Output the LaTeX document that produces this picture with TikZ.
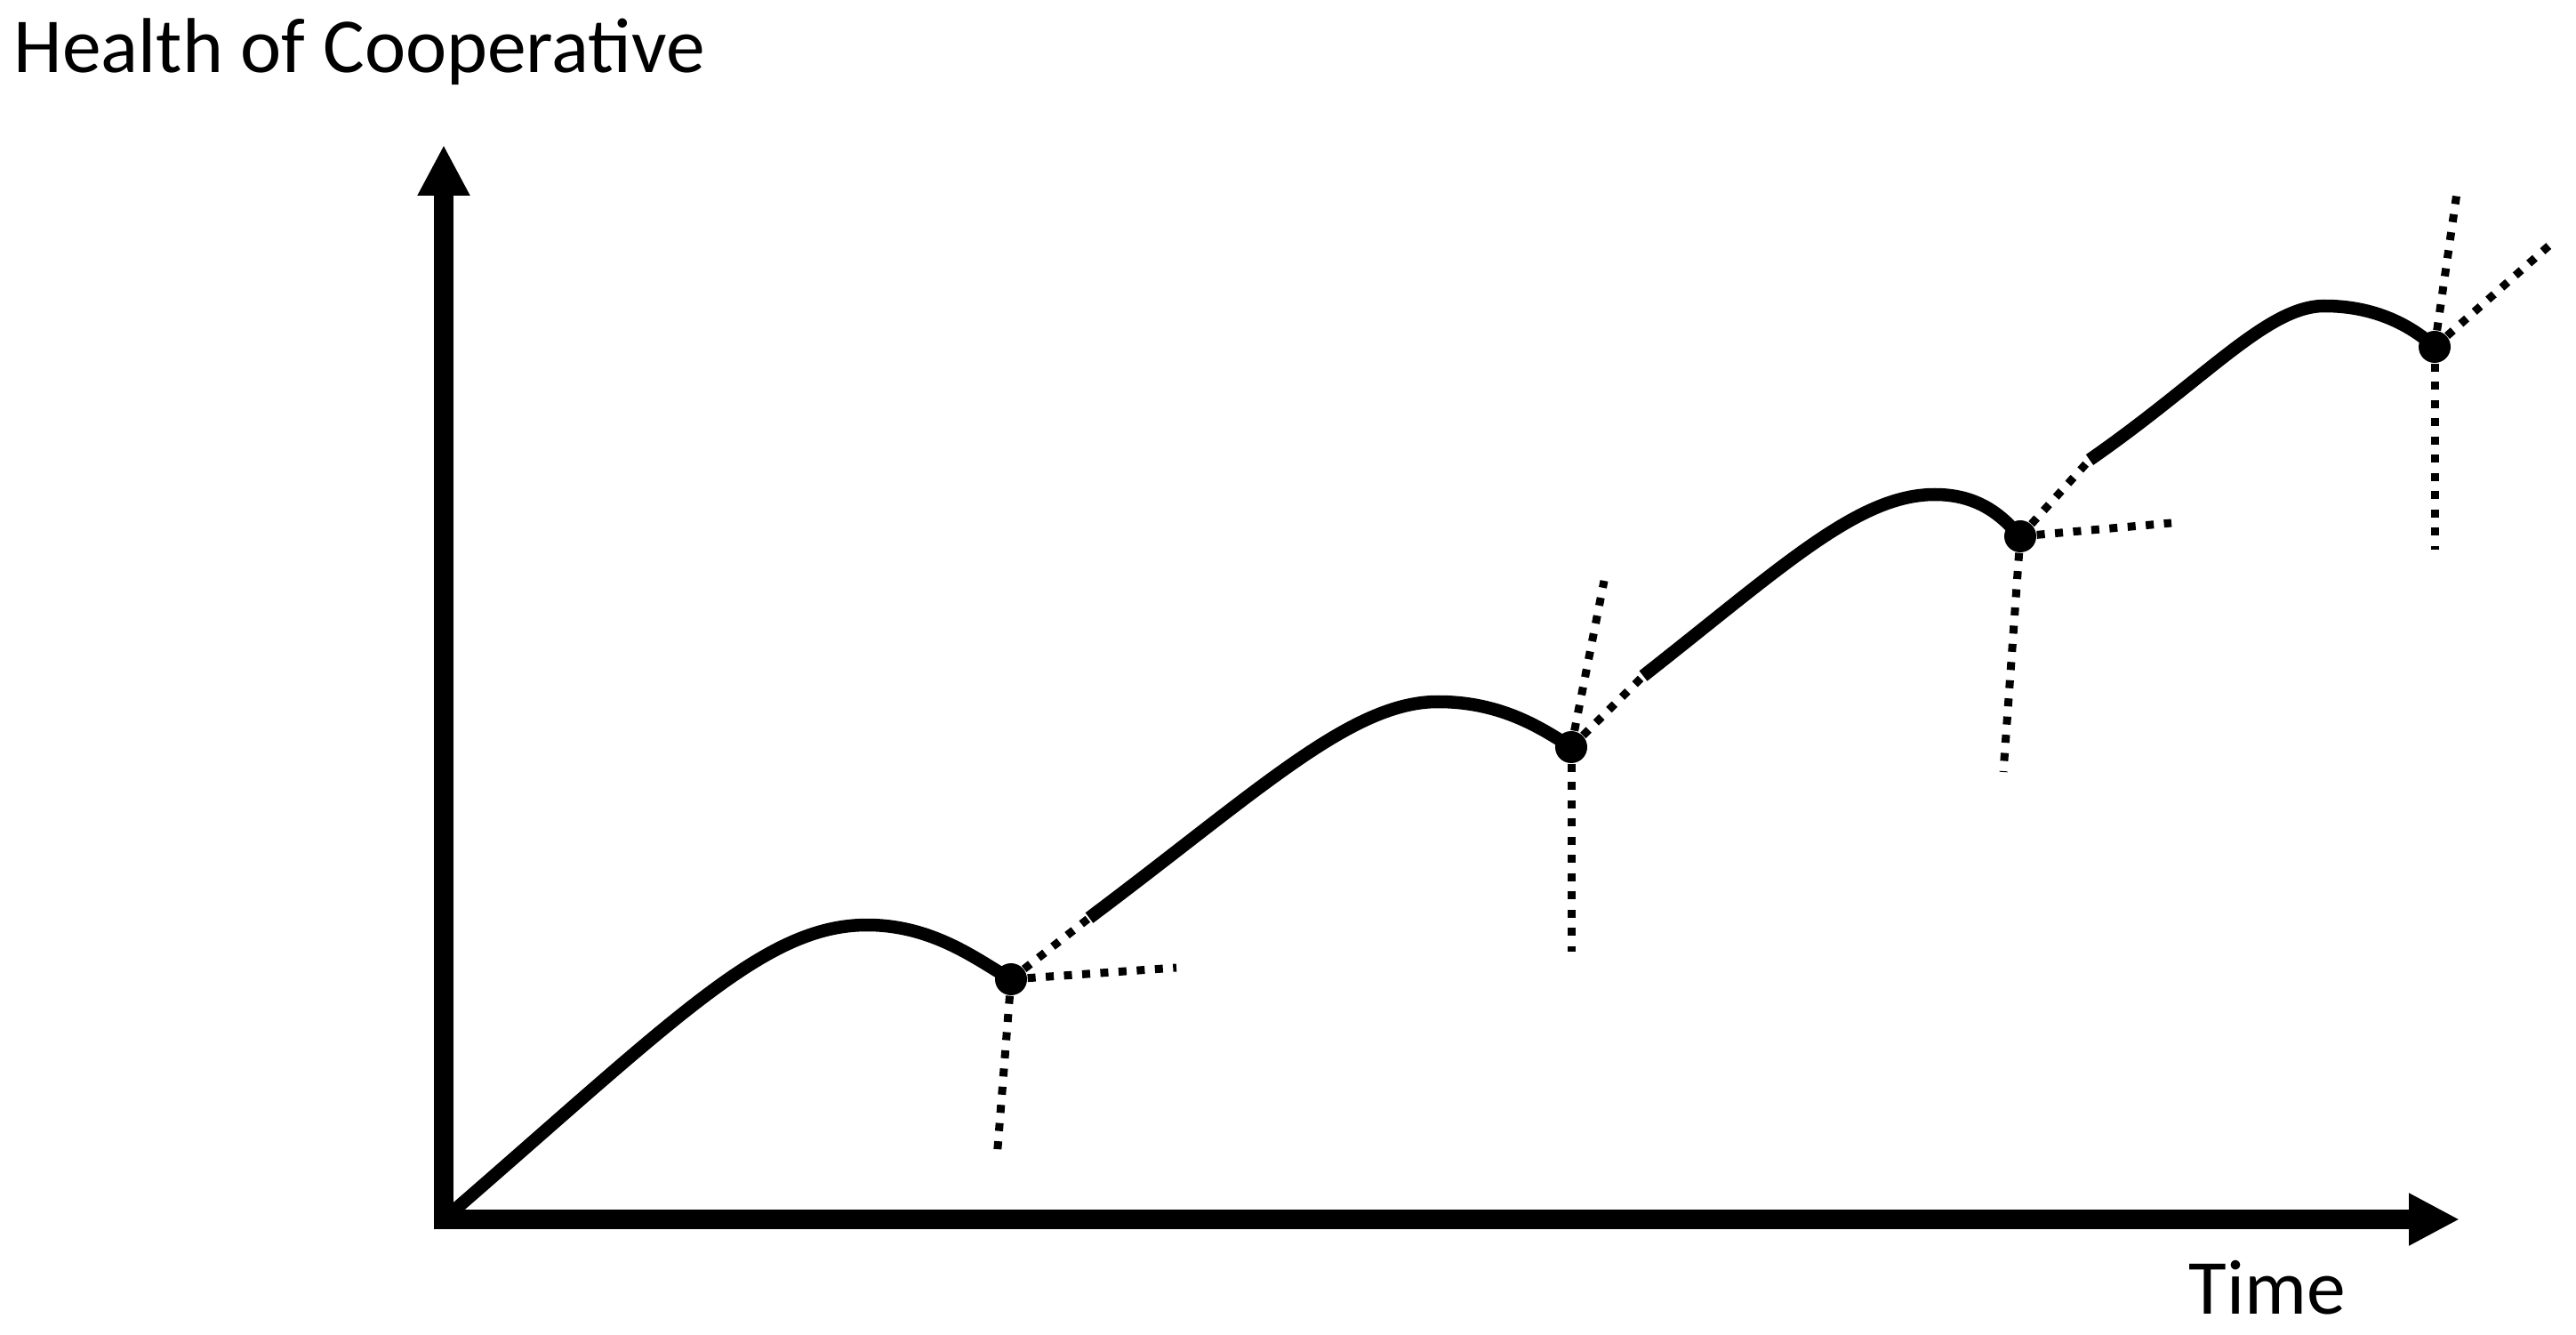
\documentclass[tikz,border=0pt]{standalone}
\usepackage{fontspec}
\setmainfont{Carlito}
\usetikzlibrary{arrows.meta}

\begin{document}
\begin{tikzpicture}[%
  axis/.style={line width=0.22cm, line join=miter, {Triangle[length=0.57cm,width=0.55cm]}-{Triangle[length=0.57cm,width=0.55cm]}},%
  growth/.style={line width=0.145cm},%
  branch/.style={line width=0.09cm, dash pattern=on 0.09cm off 0.115cm},%
  crisis/.style={circle, fill=black, inner sep=0pt, minimum size=0.36cm},%
  lbl/.style={inner sep=0pt, font=\fontsize{24.9pt}{30pt}\selectfont}]%
\useasboundingbox (0,0) rectangle (28.97,15);%
% axes
\coordinate (o) at (4.99,1.29);%
\coordinate (ytip) at (4.99,13.37);%
\coordinate (xtip) at (27.66,1.29);%
\draw[axis] (ytip) -- (o) -- (xtip);%
\node[lbl, anchor=base west] (ylabel) at (0.15,14.18) {Health of Cooperative};%
\node[lbl, anchor=base west] (xlabel) at (24.61,0.23) {Time};%
% crisis points
\node[crisis] (d1) at (11.37,3.99) {};%
\node[crisis] (d2) at (17.67,6.60) {};%
\node[crisis] (d3) at (22.72,8.97) {};%
\node[crisis] (d4) at (27.38,11.10) {};%
% peaks and restarts
\coordinate (p1) at (9.75,4.60);%
\coordinate (s2) at (12.25,4.68);%
\coordinate (p2) at (16.17,7.11);%
\coordinate (s3) at (18.48,7.40);%
\coordinate (p3) at (21.76,9.44);%
\coordinate (s4) at (23.50,9.83);%
\coordinate (p4) at (26.14,11.56);%
% growth curves
\draw[growth] (o) .. controls (7.6,3.55) and (8.6,4.60) .. (p1) .. controls (10.5,4.60) and (11.0,4.2) .. (d1.center);%
\draw[growth] (s2) .. controls (14.17,6.12) and (15.2,7.11) .. (p2) .. controls (16.9,7.11) and (17.35,6.8) .. (d2.center);%
\draw[growth] (s3) .. controls (20.06,8.64) and (20.9,9.44) .. (p3) .. controls (22.3,9.44) and (22.55,9.15) .. (d3.center);%
\draw[growth] (s4) .. controls (24.81,10.74) and (25.5,11.56) .. (p4) .. controls (26.7,11.56) and (27.1,11.35) .. (d4.center);%
% branches
\coordinate (d1down) at (11.21,1.97);%
\coordinate (d1side) at (13.23,4.12);%
\coordinate (d2down) at (17.67,4.30);%
\coordinate (d2up) at (18.04,8.47);%
\coordinate (d3down) at (22.53,6.32);%
\coordinate (d3side) at (24.42,9.12);%
\coordinate (d4down) at (27.38,8.82);%
\coordinate (d4up) at (27.64,12.90);%
\coordinate (d4side) at (28.68,12.25);%
\draw[branch] (d1) -- (d1down);%
\draw[branch] (d1) -- (d1side);%
\draw[branch] (d1) -- (s2);%
\draw[branch] (d2) -- (d2down);%
\draw[branch] (d2) -- (d2up);%
\draw[branch] (d2) -- (s3);%
\draw[branch] (d3) -- (d3down);%
\draw[branch] (d3) -- (d3side);%
\draw[branch] (d3) -- (s4);%
\draw[branch] (d4) -- (d4down);%
\draw[branch] (d4) -- (d4up);%
\draw[branch] (d4) -- (d4side);%
\end{tikzpicture}
\end{document}
